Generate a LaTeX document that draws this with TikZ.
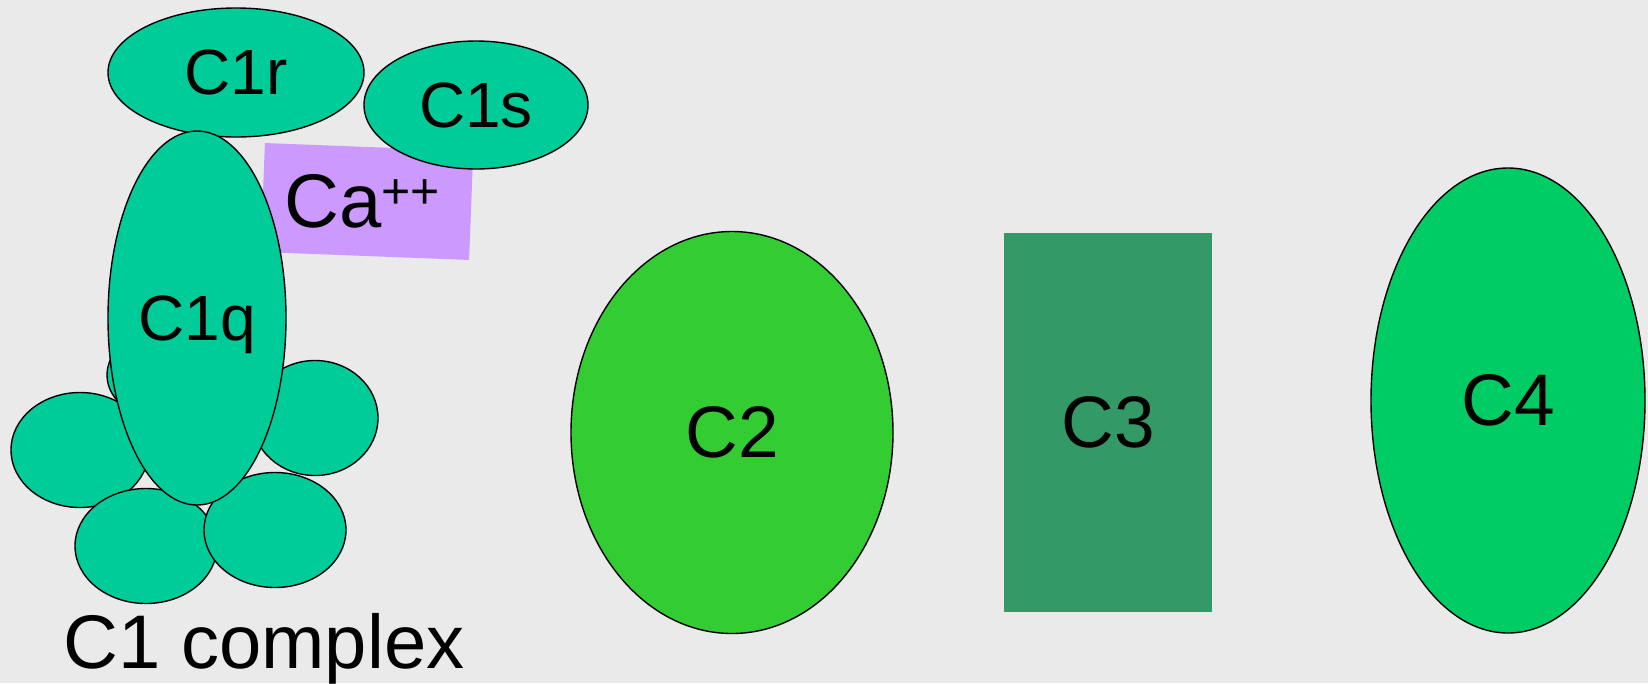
\documentclass[tikz,border=0pt]{standalone}
\usepackage{fontspec}
\setmainfont{Liberation Sans}
\usetikzlibrary{shapes.geometric}
\definecolor{bgc}{HTML}{EAEAEA}
\definecolor{cone}{HTML}{00CC99}
\definecolor{caf}{HTML}{CC99FF}
\definecolor{ctwo}{HTML}{33CC33}
\definecolor{cthree}{HTML}{339966}
\definecolor{cfour}{HTML}{00CC66}
\tikzset{
  blob/.style={ellipse, draw=black, line width=1.4pt, inner sep=0pt, text depth=0pt},
  c1blob/.style={blob, fill=cone, font=\fontsize{64}{70}\selectfont},
  bigtxt/.style={font=\fontsize{73}{80}\selectfont, text depth=0pt}
}
\begin{document}
\begin{tikzpicture}[x=1pt, y=-1pt]
\fill[bgc] (0,0) rectangle (1648,683);
\useasboundingbox (0,0) rectangle (1648,683);
% Ca++ box
\node[fill=caf, rotate=-2.2, minimum width=208.5pt, minimum height=109pt, inner sep=0pt] (cabox) at (367,201.5) {};
\node[font=\fontsize{76}{80}\selectfont, anchor=base west, inner sep=0pt] (catxt) at (284,227) {Ca\raisebox{19pt}{\fontsize{50}{52}\selectfont ++}};
% C1 complex
\node[c1blob, minimum width=224pt, minimum height=128pt] (c1s) at (476,105) {C1s};
\node[c1blob, minimum width=256pt, minimum height=129pt] (c1r) at (236,72.5) {C1r};
\node[c1blob, minimum width=116pt, minimum height=90pt] (hid) at (165,375) {};
\node[c1blob, minimum width=138pt, minimum height=115pt] (left) at (80,450) {};
\node[c1blob, minimum width=126pt, minimum height=115pt] (right) at (315,418) {};
\node[c1blob, minimum width=142pt, minimum height=115pt] (bl) at (146,546) {};
\node[c1blob, minimum width=142pt, minimum height=115pt] (br) at (275,530) {};
\node[c1blob, minimum width=178pt, minimum height=374pt] (c1q) at (197,318) {C1q};
\node[font=\fontsize{76}{82}\selectfont, anchor=base west, inner sep=0pt] (c1lab) at (63,668) {C1 complex};
% C2, C3, C4
\node[blob, fill=ctwo, bigtxt, minimum width=322pt, minimum height=402pt] (c2) at (732,432.5) {C2};
\node[fill=cthree, bigtxt, minimum width=208pt, minimum height=379pt, inner sep=0pt] (c3) at (1108,422.5) {C3};
\node[blob, fill=cfour, bigtxt, minimum width=274pt, minimum height=465pt] (c4) at (1508,400.5) {C4};
\end{tikzpicture}
\end{document}
